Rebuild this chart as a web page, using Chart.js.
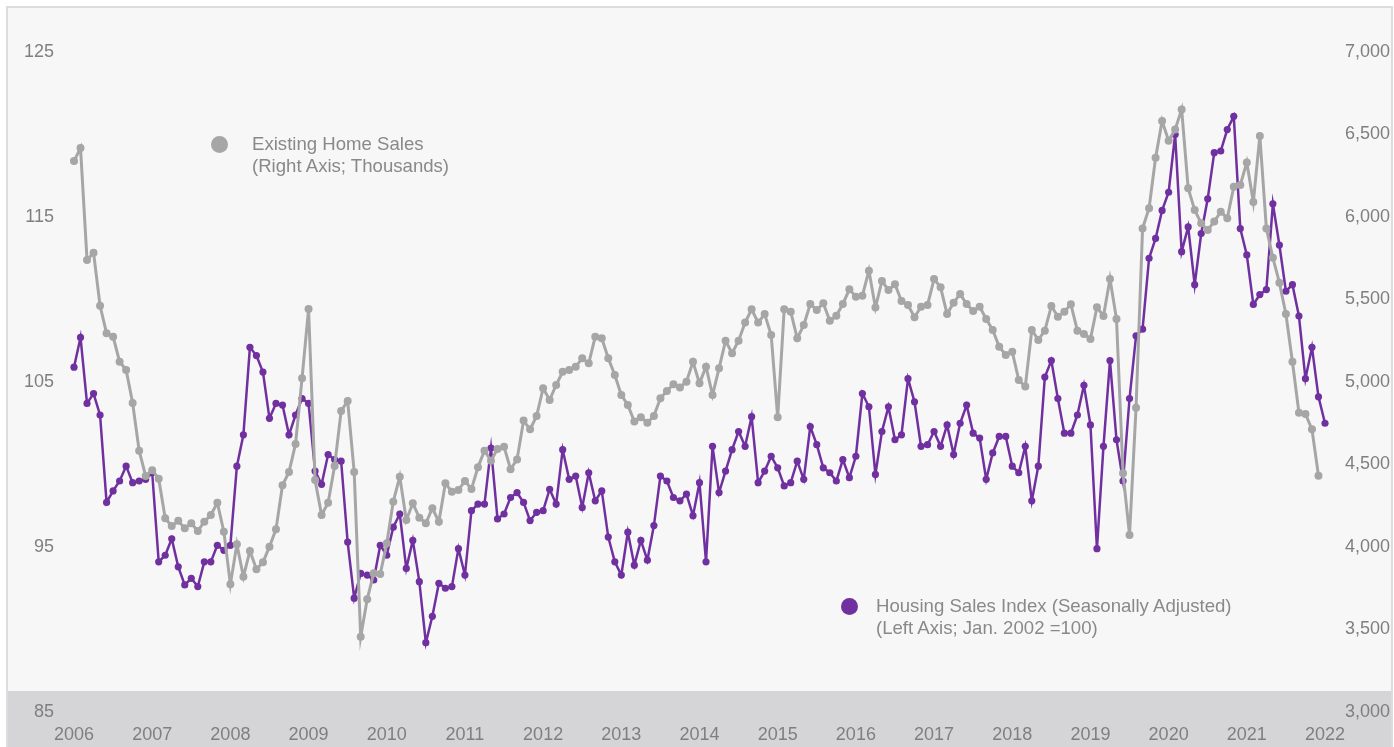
<!DOCTYPE html>
<html>
<head>
<meta charset="utf-8">
<script src="https://cdn.jsdelivr.net/npm/chart.js@4/dist/chart.umd.min.js"></script>
<style>
    html, body { margin: 0; padding: 0; background: #ffffff; }
    #wrap { position: relative; width: 1394px; height: 747px; font-family: "Liberation Sans", Arial, sans-serif; }
    .note { position: absolute; font-size: 18.6px; line-height: 22px; color: #898989; white-space: nowrap; }
    .dot { position: absolute; width: 17px; height: 17px; border-radius: 50%; }
</style>
</head>
<body>
<div id="wrap">
    <canvas id="salesChart" width="1394" height="747"></canvas>
    <span class="dot" style="left:211px; top:136px; background:#a6a6a6;"></span>
    <div class="note" style="left:252px; top:133px;">Existing Home Sales<br>(Right Axis; Thousands)</div>
    <span class="dot" style="left:841px; top:598px; background:#7030a0;"></span>
    <div class="note" style="left:876px; top:595px;">Housing Sales Index (Seasonally Adjusted)<br>(Left Axis; Jan. 2002 =100)</div>
</div>
<script>
// Bulan pertama = Jan 2006, satu titik per bulan
const startYear = 2006;
const yearTicks = [2006, 2007, 2008, 2009, 2010, 2011, 2012, 2013, 2014, 2015, 2016, 2017, 2018, 2019, 2020, 2021, 2022];
const leftTicks = [85, 95, 105, 115, 125];
const rightTicks = [3000, 3500, 4000, 4500, 5000, 5500, 6000, 6500, 7000];

// Housing Sales Index (Left Axis; Jan. 2002 = 100)
const housingIndex = [
    105.9, 107.7, 103.7, 104.3, 103.0, 97.7, 98.4, 99.0, 99.9, 98.9, 99.0, 99.1,
    99.5, 94.1, 94.5, 95.5, 93.8, 92.7, 93.1, 92.6, 94.1, 94.1, 95.1, 94.8,
    95.1, 99.9, 101.8, 107.1, 106.6, 105.6, 102.8, 103.7, 103.6, 101.8, 103.0, 104.0,
    103.7, 99.6, 98.8, 100.6, 100.3, 100.2, 95.3, 91.9, 93.4, 93.3, 93.0, 95.1,
    94.5, 96.2, 97.0, 93.7, 95.4, 92.9, 89.2, 90.8, 92.8, 92.5, 92.6, 94.9,
    93.3, 97.2, 97.6, 97.6, 101.0, 96.7, 97.0, 98.0, 98.3, 97.7, 96.6, 97.1,
    97.2, 98.5, 97.6, 100.9, 99.1, 99.3, 97.4, 99.5, 97.8, 98.4, 95.6, 94.1,
    93.3, 95.9, 93.9, 95.4, 94.2, 96.3, 99.3, 99.0, 98.0, 97.8, 98.2, 96.9,
    98.9, 94.1, 101.1, 98.3, 99.6, 100.9, 102.0, 101.1, 102.9, 98.9, 99.6, 100.5,
    99.8, 98.7, 98.9, 100.2, 99.1, 102.3, 101.2, 99.8, 99.5, 99.0, 100.3, 99.2,
    100.5, 104.3, 103.5, 99.4, 102.0, 103.5, 101.5, 101.8, 105.2, 103.8, 101.1, 101.2,
    102.0, 101.1, 102.4, 100.6, 102.5, 103.6, 101.9, 101.6, 99.1, 100.7, 101.7, 101.7,
    99.9, 99.5, 101.1, 97.8, 99.9, 105.3, 106.3, 104.0, 101.9, 101.9, 103.0, 104.8,
    102.4, 94.9, 101.1, 106.3, 101.5, 99.0, 104.0, 107.8, 108.2, 112.5, 113.7, 115.4,
    116.5, 120.0, 112.9, 114.4, 110.9, 114.0, 116.1, 118.9, 119.0, 120.3, 121.1, 114.3,
    112.7, 109.7, 110.3, 110.6, 115.8, 113.3, 110.5, 110.9, 109.0, 105.2, 107.1, 104.1,
    102.5
];

// Existing Home Sales (Right Axis; Thousands)
const existingSales = [
    6339, 6418, 5739, 5784, 5462, 5295, 5275, 5123, 5073, 4873, 4584, 4430,
    4465, 4414, 4174, 4127, 4159, 4113, 4144, 4097, 4153, 4194, 4268, 4093,
    3774, 4016, 3820, 3976, 3865, 3907, 4002, 4107, 4374, 4455, 4624, 5022,
    5442, 4406, 4194, 4268, 4491, 4824, 4885, 4455, 3456, 3683, 3841, 3836,
    4022, 4275, 4426, 4164, 4265, 4178, 4144, 4235, 4153, 4386, 4335, 4345,
    4400, 4352, 4483, 4584, 4523, 4594, 4608, 4471, 4531, 4766, 4713, 4794,
    4962, 4891, 4982, 5062, 5073, 5093, 5144, 5113, 5275, 5265, 5144, 5042,
    4921, 4861, 4760, 4786, 4753, 4794, 4901, 4945, 4986, 4967, 5002, 5123,
    4992, 5093, 4921, 5083, 5250, 5174, 5250, 5360, 5441, 5360, 5412, 5285,
    4786, 5441, 5426, 5265, 5345, 5473, 5436, 5477, 5371, 5402, 5473, 5562,
    5517, 5523, 5675, 5451, 5612, 5558, 5592, 5491, 5467, 5392, 5456, 5467,
    5624, 5574, 5412, 5481, 5533, 5473, 5430, 5456, 5382, 5315, 5214, 5164,
    5184, 5012, 4972, 5315, 5255, 5311, 5461, 5396, 5426, 5471, 5311, 5291,
    5261, 5453, 5400, 5624, 5382, 4447, 4073, 4844, 5931, 6053, 6359, 6582,
    6462, 6531, 6652, 6174, 6042, 5962, 5921, 5972, 6032, 5992, 6184, 6194,
    6331, 6091, 6491, 5931, 5753, 5602, 5412, 5123, 4814, 4806, 4713, 4432
];

function toPoints(values) {
    return values.map((v, i) => ({ x: i, y: v }));
}

// Latar belakang abu-abu, pita bawah dan bingkai
const backgroundPlugin = {
    id: 'backgroundPlugin',
    beforeDraw(chart) {
        const ctx = chart.ctx;
        ctx.save();
        ctx.fillStyle = '#f7f7f7';
        ctx.fillRect(7, 7, chart.width - 9, chart.height - 7);
        ctx.fillStyle = '#d5d5d7';
        ctx.fillRect(7, 691, chart.width - 9, chart.height - 691);
        ctx.strokeStyle = '#dcdcdc';
        ctx.lineWidth = 2;
        ctx.strokeRect(7, 7, chart.width - 9, chart.height);
        ctx.restore();
    }
};

const tickFont = { family: '"Liberation Sans", Arial, sans-serif', size: 18 };

const ctx = document.getElementById('salesChart').getContext('2d');
const salesChart = new Chart(ctx, {
    type: 'line',
    data: {
        datasets: [{
            label: 'Existing Home Sales',
            data: toPoints(existingSales),
            yAxisID: 'yRight',
            borderColor: '#a6a6a6',
            backgroundColor: '#a6a6a6',
            borderWidth: 3,
            pointRadius: 4,
            pointHoverRadius: 4,
            pointBorderWidth: 0,
            tension: 0,
            clip: false,
            order: 0
        }, {
            label: 'Housing Sales Index',
            data: toPoints(housingIndex),
            yAxisID: 'yLeft',
            borderColor: '#7030a0',
            backgroundColor: '#7030a0',
            borderWidth: 2.5,
            pointRadius: 3.6,
            pointHoverRadius: 3.6,
            pointBorderWidth: 0,
            tension: 0,
            clip: false,
            order: 1
        }]
    },
    options: {
        responsive: false,
        animation: false,
        layout: {
            padding: { top: 52, left: 0, right: 4, bottom: 0 }
        },
        plugins: {
            legend: { display: false },
            tooltip: { enabled: false }
        },
        scales: {
            x: {
                type: 'linear',
                min: 0,
                max: (yearTicks[yearTicks.length - 1] - startYear) * 12,
                grid: { display: false, drawTicks: false },
                border: { display: false },
                afterBuildTicks: function (scale) {
                    scale.ticks = yearTicks.map(y => ({ value: (y - startYear) * 12 }));
                },
                afterFit: function (scale) { scale.height = 35; },
                ticks: {
                    color: '#7f7f7f',
                    font: tickFont,
                    padding: 12,
                    maxRotation: 0,
                    autoSkip: false,
                    callback: function (value) { return String(startYear + value / 12); }
                }
            },
            yLeft: {
                position: 'left',
                min: leftTicks[0],
                max: leftTicks[leftTicks.length - 1],
                grid: { display: false, drawTicks: false },
                border: { display: false },
                afterBuildTicks: function (scale) {
                    scale.ticks = leftTicks.map(v => ({ value: v }));
                },
                afterFit: function (scale) { scale.width = 74; },
                ticks: {
                    color: '#7f7f7f',
                    font: tickFont,
                    padding: 20
                }
            },
            yRight: {
                position: 'right',
                min: rightTicks[0],
                max: rightTicks[rightTicks.length - 1],
                grid: { display: false, drawTicks: false },
                border: { display: false },
                afterBuildTicks: function (scale) {
                    scale.ticks = rightTicks.map(v => ({ value: v }));
                },
                afterFit: function (scale) { scale.width = 65; },
                ticks: {
                    color: '#7f7f7f',
                    font: tickFont,
                    crossAlign: 'far',
                    callback: function (value) { return value.toLocaleString('en-US'); }
                }
            }
        }
    },
    plugins: [backgroundPlugin]
});
</script>
</body>
</html>
